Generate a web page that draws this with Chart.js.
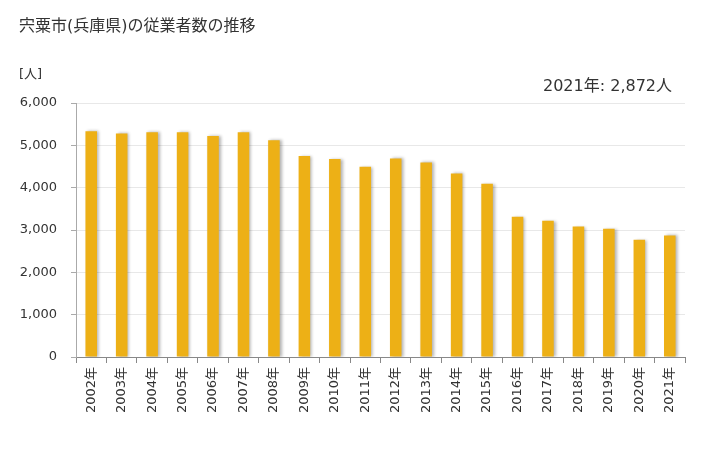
<!DOCTYPE html>
<html lang="ja">
<head>
<meta charset="UTF-8">
<title>宍粟市(兵庫県)の従業者数の推移</title>
<script src="https://cdn.jsdelivr.net/npm/chart.js"></script>
<style>
  html, body { margin: 0; padding: 0; background: #fff; }
  #wrap { width: 728px; height: 450px; position: relative; }
</style>
</head>
<body>
<div id="wrap"><canvas id="chart"></canvas></div>
<script>
// データ
const years = ['2002年', '2003年', '2004年', '2005年', '2006年', '2007年', '2008年', '2009年', '2010年', '2011年',
               '2012年', '2013年', '2014年', '2015年', '2016年', '2017年', '2018年', '2019年', '2020年', '2021年'];
const workers = [5330, 5280, 5310, 5310, 5220, 5310, 5120, 4750, 4680, 4495,
                 4690, 4595, 4335, 4095, 3315, 3220, 3080, 3030, 2770, 2872];
const yTicks = [0, 1000, 2000, 3000, 4000, 5000, 6000];

const titleText = '宍粟市(兵庫県)の従業者数の推移';
const unitText = '[人]';
const latestText = '2021年: 2,872人';

const FONT = '"DejaVu Sans", "Noto Sans CJK JP", sans-serif';

// タイトルなどのテキスト
const textPlugin = {
  id: 'texts',
  afterDraw(chart) {
    const c = chart.ctx;
    c.save();
    c.fillStyle = '#333';
    c.textBaseline = 'middle';
    c.font = '16px ' + FONT;
    c.textAlign = 'left';
    c.fillText(titleText, 19, 27);
    c.font = '13px ' + FONT;
    c.fillText(unitText, 19, 75);
    c.font = '16px ' + FONT;
    c.textAlign = 'right';
    c.fillText(latestText, 672, 87);
    c.restore();
  }
};

// 棒の影
const shadowPlugin = {
  id: 'barShadow',
  beforeDatasetDraw(chart) {
    const c = chart.ctx;
    c.save();
    c.shadowColor = 'rgba(0,0,0,0.3)';
    c.shadowBlur = 3;
    c.shadowOffsetX = 2;
    c.shadowOffsetY = 0;
  },
  afterDatasetDraw(chart) {
    chart.ctx.restore();
  }
};

new Chart(document.getElementById('chart'), {
  type: 'bar',
  data: {
    labels: years,
    datasets: [{
      data: workers,
      backgroundColor: '#edb016',
      borderWidth: 0,
      barPercentage: 0.38,
      categoryPercentage: 1.0
    }]
  },
  options: {
    responsive: true,
    maintainAspectRatio: false,
    animation: false,
    layout: { padding: { left: 0, right: 43, top: 103, bottom: 0 } },
    plugins: {
      legend: { display: false },
      tooltip: { enabled: false }
    },
    scales: {
      x: {
        grid: { display: true, drawOnChartArea: false, offset: true, tickLength: 6, color: '#888' },
        border: { color: '#888' },
        ticks: {
          color: '#333',
          font: { family: FONT, size: 13 },
          minRotation: 90,
          maxRotation: 90,
          padding: 4
        },
        afterFit(scale) { scale.height = 93; }
      },
      y: {
        min: 0,
        max: 6000,
        afterBuildTicks(scale) { scale.ticks = yTicks.map(v => ({ value: v })); },
        grid: { color: '#e8e8e8', tickLength: 5, tickColor: '#aaa' },
        border: { color: '#aaa' },
        ticks: {
          color: '#333',
          font: { family: FONT, size: 13 },
          padding: 14,
          callback: v => v.toLocaleString('en-US')
        },
        afterFit(scale) { scale.width = 76; }
      }
    }
  },
  plugins: [textPlugin, shadowPlugin]
});
</script>
</body>
</html>
